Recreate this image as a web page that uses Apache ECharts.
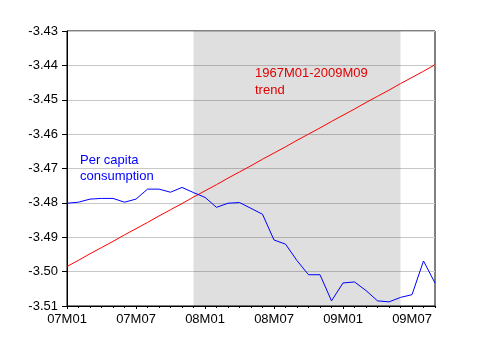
<!DOCTYPE html>
<html>
<head>
<meta charset="utf-8">
<title>Per capita consumption vs trend</title>
<script src="https://cdn.jsdelivr.net/npm/echarts@6/dist/echarts.min.js"></script>
<style>
  html, body { margin: 0; padding: 0; background: #fff; }
  #main { width: 481px; height: 352px; }
</style>
</head>
<body>
<div id="main"></div>
<script type="text/javascript">
// months 2007M01 .. 2009M09
var months = ['07M01','07M02','07M03','07M04','07M05','07M06','07M07','07M08','07M09','07M10','07M11','07M12',
              '08M01','08M02','08M03','08M04','08M05','08M06','08M07','08M08','08M09','08M10','08M11','08M12',
              '09M01','09M02','09M03','09M04','09M05','09M06','09M07','09M08','09M09'];

// log per capita consumption
var consumption = [-3.4801,-3.4798,-3.4789,-3.4787,-3.4787,-3.4798,-3.4789,-3.4760,-3.4760,-3.4769,-3.4755,-3.4770,
                   -3.4784,-3.4813,-3.4801,-3.4799,-3.4816,-3.4833,-3.4908,-3.4920,-3.4968,-3.5009,-3.5009,-3.5085,
                   -3.5033,-3.5030,-3.5055,-3.5085,-3.5088,-3.5075,-3.5067,-3.4969,-3.5033];

// 1967M01-2009M09 trend
var trend = [-3.4985,-3.4967,-3.4948,-3.4930,-3.4912,-3.4893,-3.4875,-3.4857,-3.4838,-3.4820,-3.4802,-3.4783,
             -3.4765,-3.4747,-3.4728,-3.4710,-3.4692,-3.4673,-3.4655,-3.4637,-3.4618,-3.4600,-3.4582,-3.4563,
             -3.4545,-3.4527,-3.4508,-3.4490,-3.4472,-3.4453,-3.4435,-3.4417,-3.4398];

// recession shading
var recession = ['07M12', '09M06'];

var font = 'Arial, "Liberation Sans", sans-serif';

var chart = echarts.init(document.getElementById('main'));

chart.setOption({
    animation: false,
    backgroundColor: '#fff',
    grid: {
        left: 67, top: 31, right: 46, bottom: 46,
        show: true, borderColor: '#000', borderWidth: 1
    },
    xAxis: [{
        type: 'category',
        data: months,
        boundaryGap: false,
        position: 'bottom',
        axisLine: { lineStyle: { color: '#000', width: 1 } },
        axisTick: { show: true, interval: 0, length: 2, lineStyle: { color: '#000' } },
        axisLabel: { show: false },
        splitLine: { show: false }
    }, {
        type: 'category',
        data: months,
        boundaryGap: false,
        position: 'bottom',
        axisLine: { show: false },
        axisTick: { show: true, interval: 5, length: 3, lineStyle: { color: '#000' } },
        axisLabel: { interval: 5, margin: 7, color: '#000', fontFamily: font, fontSize: 13 },
        splitLine: { show: false }
    }],
    yAxis: {
        type: 'value',
        min: -3.51,
        max: -3.43,
        interval: 0.01,
        axisLine: { show: true, lineStyle: { color: '#000' } },
        axisTick: { show: true, length: 5, lineStyle: { color: '#000' } },
        axisLabel: {
            margin: 9, color: '#000', fontFamily: font, fontSize: 13,
            formatter: function (v) { return v.toFixed(2); }
        },
        splitLine: { show: true, lineStyle: { color: '#c8c8c8', width: 1 } }
    },
    graphic: [{
        type: 'text', left: 80, top: 152,
        style: { text: 'Per capita\nconsumption', fill: '#0000ff', font: '13px ' + font, lineHeight: 16 }
    }, {
        type: 'text', left: 255, top: 65,
        style: { text: '1967M01-2009M09\ntrend', fill: '#ff0000', font: '13px ' + font, lineHeight: 17 }
    }],
    series: [{
        name: 'trend',
        type: 'line',
        data: trend,
        showSymbol: false,
        lineStyle: { color: '#ff0000', width: 1 },
        z: 3,
        markArea: {
            silent: true,
            itemStyle: { color: 'rgba(0,0,0,0.125)' },
            data: [[{ xAxis: recession[0] }, { xAxis: recession[1] }]]
        }
    }, {
        name: 'consumption',
        type: 'line',
        data: consumption,
        showSymbol: false,
        lineStyle: { color: '#0000ff', width: 1 },
        z: 4
    }]
});
</script>
</body>
</html>
